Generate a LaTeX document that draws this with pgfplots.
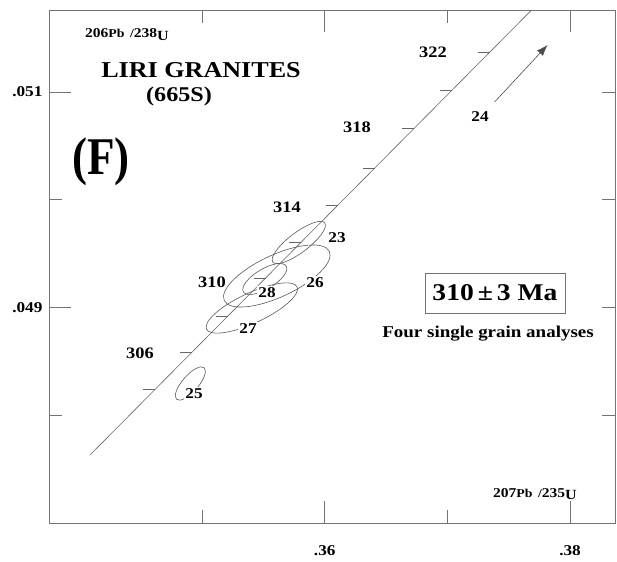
\documentclass[border=0pt]{standalone}
\usepackage{fontspec}
\setmainfont{Liberation Serif}[FakeStretch=1.15]
\newfontfamily\condserif{Liberation Serif}[FakeStretch=0.85]
\usepackage{pgfplots}
\pgfplotsset{compat=1.18}
\usetikzlibrary{arrows.meta}

\newcommand\fs[1]{\fontsize{#1}{#1}\selectfont}

% one error ellipse: #1 semi-major (pt), #2 semi-minor (pt), #3 tilt (deg)
\pgfplotsset{
  errell/.style n args={3}{
    only marks, mark=o, mark size=1pt, black!65, line width=0.6pt,
    mark options={rotate=#3, xscale=#1, yscale=#2, line width=0.6pt}},
  frame/.style={
    at={(49pt,-523pt)}, anchor=south west,
    scale only axis, width=566pt, height=513pt,
    xmin=0.337515, xmax=0.383666,
    ymin=0.0470037, ymax=0.0517603,
    scaled ticks=false,
    tick style={black!55, line width=0.7pt},
    tick align=inside},
}

\begin{document}
\begin{tikzpicture}
\path[use as bounding box] (0,0) rectangle (617pt,-561pt);
% short ticks on the right-hand side
\begin{axis}[frame, axis line style={draw=none},
  xtick=\empty, ytick={0.048,0.049,0.050,0.051}, ytick pos=right,
  yticklabels={}, major tick length=13pt]
\end{axis}
\begin{axis}[
  frame,
  axis line style={black!55, line width=0.7pt},
  major tick length=22pt, minor tick length=13pt,
  xtick={0.36,0.38}, xticklabels={.36,.38},
  minor xtick={0.35,0.37},
  ytick={0.049,0.051}, yticklabels={.049,.051},
  minor ytick={0.048,0.050}, ytick pos=left,
  ticklabel style={font=\bfseries\fs{15}},
  xticklabel style={yshift=-19pt},
  yticklabel style={xshift=-3pt},
  clip=true,
]
% concordia
\addplot[black!60, line width=0.6pt] coordinates {
  (0.340855,0.0476342) (0.376864,0.0517603)};
% age marks every 2 Ma, 304 to 322 Ma
\addplot[black!60, line width=0.6pt, unbounded coords=jump] coordinates {
  (0.3452179,0.04824617) (0.3461955,0.04824617) (0.35,nan)
  (0.3482118,0.04858925) (0.3491894,0.04858925) (0.35,nan)
  (0.3511250,0.04892304) (0.3521026,0.04892304) (0.35,nan)
  (0.3541996,0.04927538) (0.3551772,0.04927538) (0.35,nan)
  (0.3571129,0.04960918) (0.3580904,0.04960918) (0.35,nan)
  (0.3601059,0.04995225) (0.3610835,0.04995225) (0.35,nan)
  (0.3631039,0.05029532) (0.3640815,0.05029532) (0.35,nan)
  (0.3663381,0.05066620) (0.3673157,0.05066620) (0.35,nan)
  (0.3694094,0.05101855) (0.3703870,0.05101855) (0.35,nan)
  (0.3724888,0.05137089) (0.3734664,0.05137089)};
% error ellipses of the analyses
\addplot[errell={32.5}{10}{37}] coordinates {(0.3578819,0.0496045)}; % 23
\addplot[errell={58}{21}{25}]   coordinates {(0.3560896,0.0492939)}; % 26
\addplot[errell={25}{10}{31}]   coordinates {(0.3551120,0.0492661)}; % 28
\addplot[errell={50}{15}{25}]   coordinates {(0.3540530,0.0489972)}; % 27
\addplot[errell={21}{8}{49}]    coordinates {(0.3490428,0.0482972)}; % 25
% grain 24 lies off scale
\addplot[black!70, line width=0.6pt, -{Latex[length=11pt,width=8pt]}] coordinates {
  (0.3738493,0.0509073) (0.3781670,0.0514358)};
\end{axis}

% axis ratios
\node[anchor=base west, inner sep=0] at (85pt,-38pt)
  {\bfseries\fs{13.5}206\fs{12}Pb\hspace{2pt} /\fs{13.5}238\raisebox{-2.5pt}{\fs{14}U}};
\node[anchor=base west, inner sep=0] at (493pt,-497pt)
  {\bfseries\fs{13.5}207\fs{12}Pb\hspace{2pt} /\fs{13.5}235\raisebox{-2.5pt}{\fs{14}U}};

% titles
\node[anchor=base, inner sep=0] at (201pt,-78pt) {\bfseries\fs{22.7}LIRI GRANITES};
\node[anchor=base, inner sep=0] at (179pt,-102pt) {\bfseries\fs{21}(665S)};
\node[anchor=base, inner sep=0] at (101pt,-175pt) {\condserif\bfseries\fs{53}(F)};

% concordia ages (Ma)
\foreach \t/\x/\y in {322/433/58, 318/357/133, 314/287/212, 310/212/287, 306/140/358}
  \node[anchor=base, inner sep=0] at (\x pt,-\y pt) {\bfseries\fs{16}\t};

% analysis numbers
\foreach \t/\x/\y in {23/337/242, 26/315/287, 28/267/297, 27/248/333, 25/194/398, 24/480/122}
  \node[anchor=base, fill=white, inner sep=1pt] at (\x pt,-\y pt) {\bfseries\fs{15}\t};

% result
\node[draw=black!55, line width=0.6pt, minimum width=140pt, minimum height=40pt, inner sep=0]
  at (495pt,-293pt) {\bfseries\fs{24}310\,±\,3 Ma};
\node[anchor=base, inner sep=0] at (488pt,-337pt) {\bfseries\fs{16.5}Four single grain analyses};
\end{tikzpicture}
\end{document}
